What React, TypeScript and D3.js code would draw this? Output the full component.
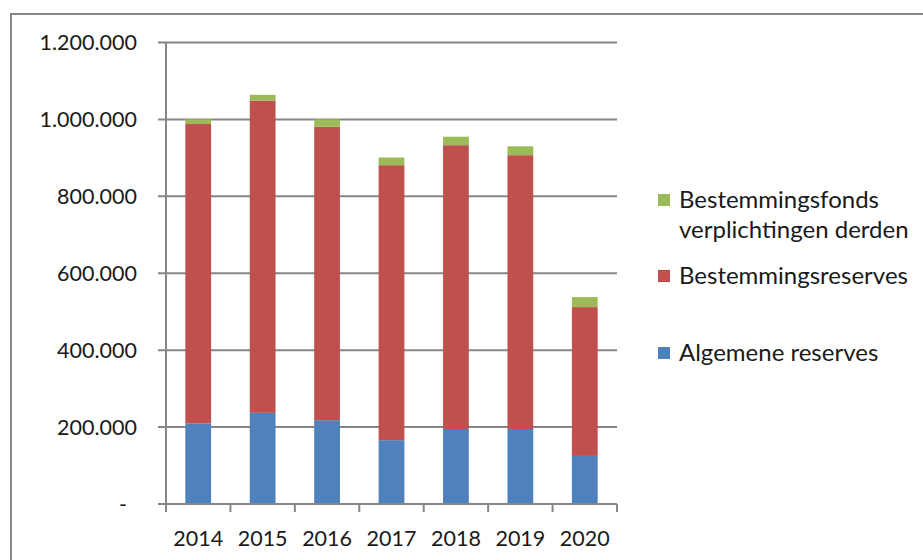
import { useRef, useEffect } from 'react';
import * as d3 from 'd3';

const years = ['2014', '2015', '2016', '2017', '2018', '2019', '2020'];
const algemeneReserves = [209000, 237000, 218000, 166000, 195000, 195000, 125000];
const bestemmingsreserves = [779000, 812000, 763000, 715000, 738000, 712000, 387000];
const bestemmingsfonds = [12000, 15000, 19000, 20000, 22000, 23000, 26000];
const seriesNames = ['Algemene reserves', 'Bestemmingsreserves', 'Bestemmingsfonds verplichtingen derden'];
const seriesColors = ['#4F81BD', '#C0504D', '#9BBB59'];
const yTicks = [0, 200000, 400000, 600000, 800000, 1000000, 1200000];

export default function App() {
  const svgRef = useRef<SVGSVGElement>(null);

  useEffect(() => {
    const width = 923;
    const height = 560;
    const font = 'Lato, "Open Sans", sans-serif';
    const grey = '#868686';

    const svg = d3.select(svgRef.current)
      .attr('width', width)
      .attr('height', height);
    svg.selectAll('*').remove();

    // outer chart frame (runs off the right and bottom edge)
    svg.append('rect')
      .attr('x', 11).attr('y', 14)
      .attr('width', width + 20).attr('height', height + 20)
      .attr('fill', 'white')
      .attr('stroke', grey)
      .attr('stroke-width', 2);

    const x = d3.scaleBand()
      .domain(years)
      .range([166, 617])
      .paddingInner(0.6)
      .paddingOuter(0.3);

    const y = d3.scaleLinear()
      .domain([0, 1200000])
      .range([504, 42.5]);

    const nl = d3.formatLocale({ decimal: ',', thousands: '.', grouping: [3], currency: ['€', ''] });
    const fmt = nl.format(',d');

    // gridlines + y tick marks
    svg.append('g')
      .selectAll('line')
      .data(yTicks)
      .enter()
      .append('line')
      .attr('x1', 158).attr('x2', 617)
      .attr('y1', d => y(d)).attr('y2', d => y(d))
      .attr('stroke', grey)
      .attr('stroke-width', 2);

    svg.append('g')
      .selectAll('text')
      .data(yTicks)
      .enter()
      .append('text')
      .attr('x', d => (d === 0 ? 127 : 137))
      .attr('y', d => y(d))
      .attr('dy', '0.35em')
      .attr('text-anchor', 'end')
      .attr('font-family', font)
      .attr('font-size', 21.5)
      .attr('fill', '#1a1a1a')
      .text(d => (d === 0 ? '-' : fmt(d)));

    // stacked bars
    const rows = years.map((yr, i) => ({
      year: yr,
      a: algemeneReserves[i],
      b: bestemmingsreserves[i],
      c: bestemmingsfonds[i],
    }));
    const stack = d3.stack<any>().keys(['a', 'b', 'c']);
    const stacked = stack(rows);

    svg.append('g')
      .selectAll('g')
      .data(stacked)
      .enter()
      .append('g')
      .attr('fill', (d, i) => seriesColors[i])
      .selectAll('rect')
      .data(d => d)
      .enter()
      .append('rect')
      .attr('x', d => x(d.data.year)!)
      .attr('width', x.bandwidth())
      .attr('y', d => y(d[1]))
      .attr('height', d => y(d[0]) - y(d[1]));

    // axes lines
    svg.append('line')
      .attr('x1', 166).attr('x2', 166)
      .attr('y1', y(1200000)).attr('y2', 504)
      .attr('stroke', grey).attr('stroke-width', 2);
    svg.append('line')
      .attr('x1', 166).attr('x2', 617)
      .attr('y1', 504).attr('y2', 504)
      .attr('stroke', grey).attr('stroke-width', 2);

    const step = x.step();
    const tickXs = d3.range(years.length + 1).map(i => 166 + i * step);
    svg.append('g')
      .selectAll('line')
      .data(tickXs)
      .enter()
      .append('line')
      .attr('x1', d => d).attr('x2', d => d)
      .attr('y1', 504).attr('y2', 512)
      .attr('stroke', grey).attr('stroke-width', 2);

    svg.append('g')
      .selectAll('text')
      .data(years)
      .enter()
      .append('text')
      .attr('x', d => x(d)! + x.bandwidth() / 2)
      .attr('y', 538)
      .attr('dy', '0.35em')
      .attr('text-anchor', 'middle')
      .attr('font-family', font)
      .attr('font-size', 21.5)
      .attr('fill', '#1a1a1a')
      .text(d => d);

    // legend (top to bottom: green, red, blue)
    const legend = [
      { color: seriesColors[2], lines: ['Bestemmingsfonds', 'verplichtingen derden'], y: 200 },
      { color: seriesColors[1], lines: [seriesNames[1]], y: 276 },
      { color: seriesColors[0], lines: [seriesNames[0]], y: 353 },
    ];
    const lg = svg.append('g')
      .selectAll('g')
      .data(legend)
      .enter()
      .append('g');
    lg.append('rect')
      .attr('x', 658).attr('y', d => d.y - 6)
      .attr('width', 12).attr('height', 12)
      .attr('fill', d => d.color);
    lg.each(function (d) {
      d3.select(this).selectAll('text')
        .data(d.lines)
        .enter()
        .append('text')
        .attr('x', 679)
        .attr('y', (t, i) => d.y + i * 30)
        .attr('dy', '0.35em')
        .attr('font-family', font)
        .attr('font-size', 24)
        .attr('fill', '#1a1a1a')
        .text(t => t);
    });
  }, []);

  return (
    <svg ref={svgRef} style={{ position: 'absolute', left: 0, top: 0, display: 'block' }} />
  );
}
